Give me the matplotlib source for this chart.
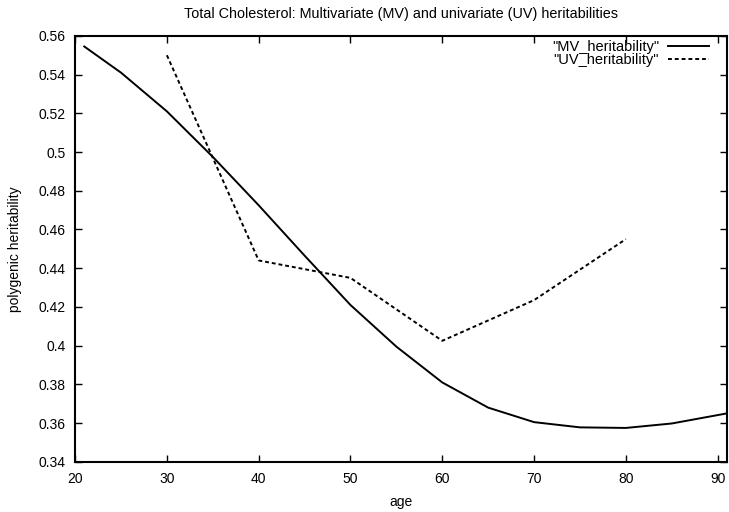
import matplotlib
matplotlib.use("Agg")
import matplotlib.pyplot as plt
from matplotlib.ticker import FuncFormatter

plt.rcParams['font.family'] = ['Liberation Sans', 'DejaVu Sans']

# Data
mv_age = [21, 25, 30, 35, 40, 45, 50, 55, 60, 65, 70, 75, 80, 85, 91]
mv_h = [0.5545, 0.541, 0.521, 0.4975, 0.4725, 0.4465, 0.421, 0.3995, 0.381,
        0.368, 0.3605, 0.3578, 0.3575, 0.3598, 0.365]
uv_age = [30, 40, 50, 60, 70, 80]
uv_h = [0.550, 0.444, 0.435, 0.4025, 0.4235, 0.455]

x_ticks = [20, 30, 40, 50, 60, 70, 80, 90]
y_ticks = [0.34, 0.36, 0.38, 0.40, 0.42, 0.44, 0.46, 0.48, 0.50, 0.52, 0.54, 0.56]

fig = plt.figure(figsize=(7.29, 5.12), dpi=100)
ax = fig.add_axes([0.103, 0.098, 0.894, 0.832])

ax.plot(mv_age, mv_h, color='black', lw=1.4, label='"MV_heritability"')
ax.plot(uv_age, uv_h, color='black', lw=1.4, linestyle=(0, (2, 1.5)),
        label='"UV_heritability"')

ax.set_xlim(20, 91)
ax.set_ylim(0.34, 0.56)
ax.set_xticks(x_ticks)
ax.set_yticks(y_ticks)
ax.yaxis.set_major_formatter(FuncFormatter(lambda v, p: '%g' % round(v, 2)))
ax.tick_params(direction='in', top=True, right=True, length=5, width=1,
               labelsize=10, pad=7)
for s in ax.spines.values():
    s.set_linewidth(1.5)

ax.set_xlabel('age', fontsize=10, labelpad=7)
ax.set_ylabel('polygenic heritability', fontsize=10, labelpad=12)
ax.set_title('Total Cholesterol: Multivariate (MV) and univariate (UV) heritabilities',
             fontsize=10.4, pad=13)

leg = ax.legend(loc='upper right', bbox_to_anchor=(0.972, 0.99),
                frameon=False, markerfirst=False,
                fontsize=10.5, handlelength=2.8, handletextpad=0.6,
                labelspacing=-0.08, borderaxespad=0, borderpad=0)
for t in leg.get_texts():
    t.set_ha('right')

fig.savefig('out.png', dpi=100)
